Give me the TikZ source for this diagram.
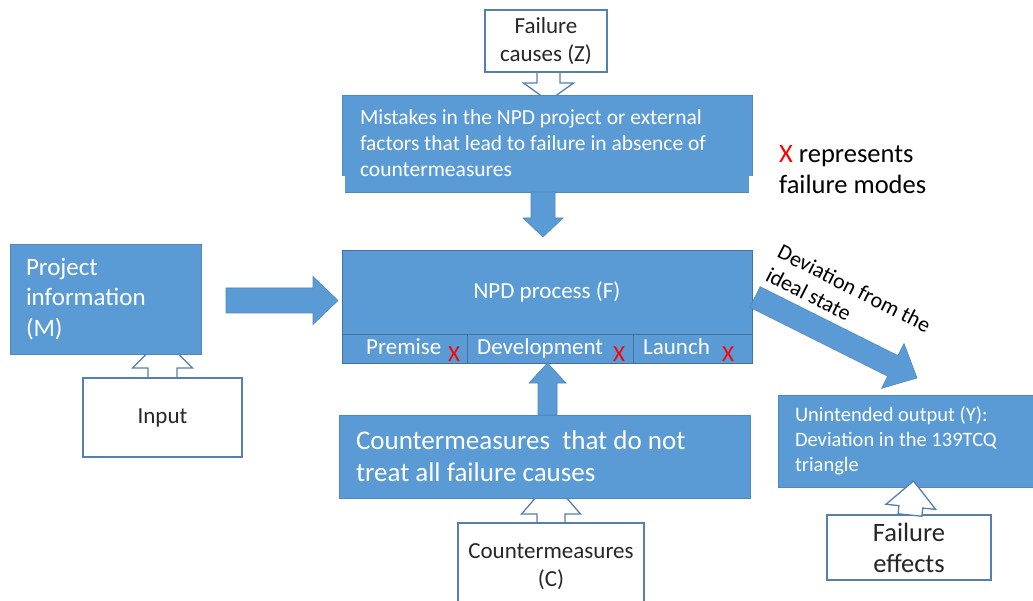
\documentclass[tikz,border=0pt]{standalone}
\usepackage{fontspec}
\setmainfont{Carlito}
\usetikzlibrary{calc}

\definecolor{boxblue}{HTML}{5B9BD5}
\definecolor{boxedge}{HTML}{4F88C0}
\definecolor{celledge}{HTML}{41719C}
\definecolor{outline}{HTML}{5580AE}
\definecolor{markred}{HTML}{FF0000}

\pgfdeclarelayer{bg}
\pgfdeclarelayer{back}
\pgfsetlayers{bg,back,main}

% font sizes (size / baseline skip)
\newcommand\fsBody{\fontsize{21.5}{26}\selectfont}
\newcommand\fsMid{\fontsize{23}{28}\selectfont}
\newcommand\fsBig{\fontsize{25}{30.5}\selectfont}
\newcommand\fsHuge{\fontsize{27}{32}\selectfont}
\newcommand\fsLegend{\fontsize{26.5}{31}\selectfont}
\newcommand\fsOut{\fontsize{20.5}{25}\selectfont}

% block arrow: style, start, end, shaft half width, head half width, head length
\newcommand\blockarrow[6]{%
  \coordinate (ba-s) at (#2);
  \coordinate (ba-e) at (#3);
  \coordinate (ba-h) at ($(ba-e)!#6!(ba-s)$);
  \path[#1] ($(ba-s)!#4!90:(ba-e)$) -- ($(ba-h)!#4!90:(ba-e)$)
    -- ($(ba-h)!#5!90:(ba-e)$) -- (ba-e) -- ($(ba-h)!#5!-90:(ba-e)$)
    -- ($(ba-h)!#4!-90:(ba-e)$) -- ($(ba-s)!#4!-90:(ba-e)$) -- cycle;}

\tikzset{
  bluebox/.style={fill=boxblue, draw=boxedge, line width=0.6pt, text=white,
    inner sep=0pt, outer sep=0pt},
  cellbox/.style={fill=boxblue, draw=celledge, line width=0.8pt,
    inner sep=0pt, outer sep=0pt},
  whitebox/.style={fill=white, draw=outline, line width=1.3pt, text=black!85,
    inner sep=0pt, outer sep=0pt, align=center},
  celltext/.style={text=white, inner sep=0pt, anchor=base west, font=\fsMid},
  redmark/.style={text=markred, inner sep=0pt, anchor=base west, font=\fsMid},
  bluearrow/.style={fill=boxblue, draw=boxedge, line width=0.6pt},
  hollowarrow/.style={fill=white, draw=outline, line width=1.3pt},
}

\begin{document}
\begin{tikzpicture}[x=1pt,y=-1pt]
\useasboundingbox (0,0) rectangle (1033,601);
\begin{pgfonlayer}{bg}
  \fill[white] (0,0) rectangle (1033,601);
\end{pgfonlayer}
\clip (0,0) rectangle (1033,601);

% ---- failure causes and the mistakes box
\node[whitebox, minimum width=122pt, minimum height=62pt, font=\fsMid] (causes)
  at (546,41) {Failure\\causes (Z)};
\node[bluebox, minimum width=410pt, minimum height=97pt, text width=374pt,
  inner xsep=18pt, align=flush left, font=\fsBody] (mist) at (547,143.5)
  {Mistakes in the NPD project or external\\factors that lead to failure in absence of\\countermeasures};
\fill[white] (341.5,176) rectangle (345,193);
\fill[white] (749,176) rectangle (752.5,193);
\begin{pgfonlayer}{back}
  \blockarrow{hollowarrow}{$(causes.south)+(2.5,0)$}{$(mist.north)+(1.5,6)$}{11.5pt}{25pt}{18pt}
\end{pgfonlayer}

% ---- project information and input
\node[bluebox, minimum width=191pt, minimum height=110pt, text width=159pt,
  inner xsep=16pt, align=flush left, font=\fsBig] (proj) at (105.5,299)
  {Project\\information\\(M)};
\node[whitebox, minimum width=159pt, minimum height=79pt, font=\fsMid] (input)
  at (162.5,417.5) {Input};
\begin{pgfonlayer}{back}
  \blockarrow{hollowarrow}{input.north}{$(proj.south)+(57,-16)$}{14.5pt}{30pt}{30pt}
\end{pgfonlayer}

% ---- NPD process with its three phases
\node[cellbox, text=white, minimum width=410pt, minimum height=84pt, font=\fsMid]
  (npd) at (547,292) {NPD process (F)};
\node[cellbox, minimum width=125pt, minimum height=29pt] (pcell) at (404.5,348.5) {};
\node[cellbox, minimum width=166pt, minimum height=29pt] (dcell) at (550,348.5) {};
\node[cellbox, minimum width=119pt, minimum height=29pt] (lcell) at (692.5,348.5) {};
\node[celltext] (ptext) at (366,355) {Premise};
\node[celltext] (dtext) at (477,355) {Development};
\node[celltext] (ltext) at (643,355) {Launch};
\node[redmark] (px) at (448,362) {X};
\node[redmark] (dx) at (613,362) {X};
\node[redmark] (lx) at (722,362) {X};

% ---- countermeasures
\node[bluebox, minimum width=411pt, minimum height=83pt, text width=377pt,
  inner xsep=17pt, align=flush left, font=\fsHuge] (cmb) at (544.5,456.5)
  {Countermeasures~ that do not\\treat all failure causes};
\node[whitebox, minimum width=186pt, minimum height=87pt, font=\fsMid] (cmc)
  at (551,566.5) {Countermeasures\\(C)};
\begin{pgfonlayer}{back}
  \blockarrow{hollowarrow}{cmc.north}{$(cmb.south)+(6.5,-18)$}{14pt}{29.5pt}{34pt}
\end{pgfonlayer}

% ---- unintended output and failure effects
\node[bluebox, minimum width=262pt, minimum height=92pt, text width=228pt,
  inner xsep=17pt, align=flush left, font=\fsOut] (unint) at (909,441)
  {Unintended output (Y):\\Deviation in the 139TCQ\\triangle};
\node[whitebox, minimum width=164pt, minimum height=65pt, font=\fsLegend] (effects)
  at (909,547.5) {Failure\\effects};
\blockarrow{hollowarrow}{$(effects.north)+(1,0)$}{$(unint.south)+(4.5,-6)$}{12pt}{25pt}{26pt}

% ---- flow arrows
\blockarrow{bluearrow}{$(proj.east)+(25,1.5)$}{$(npd.west)+(-4,8.5)$}{12.5pt}{24pt}{25pt}
\blockarrow{bluearrow}{$(mist.south)+(-4,0)$}{$(npd.north)+(-4,-13)$}{12pt}{20pt}{19pt}
\blockarrow{bluearrow}{$(cmb.north)+(3,0)$}{$(dcell.south)+(-2.5,0)$}{9.5pt}{18.5pt}{20pt}
\blockarrow{bluearrow}{$(npd.east)+(3,5)$}{$(unint.north west)+(139,-17)$}{11.5pt}{25pt}{27pt}

% ---- legend and deviation label
\node[anchor=north west, inner sep=0pt, align=flush left, font=\fsLegend] (legend)
  at (779,145) {{\color{markred}X} represents\\failure modes};
\node[anchor=north west, inner sep=0pt, align=flush left, font=\fontsize{22}{26}\selectfont,
  rotate=-27] (devlabel) at (783,243) {Deviation from the\\ideal state};
\end{tikzpicture}
\end{document}
